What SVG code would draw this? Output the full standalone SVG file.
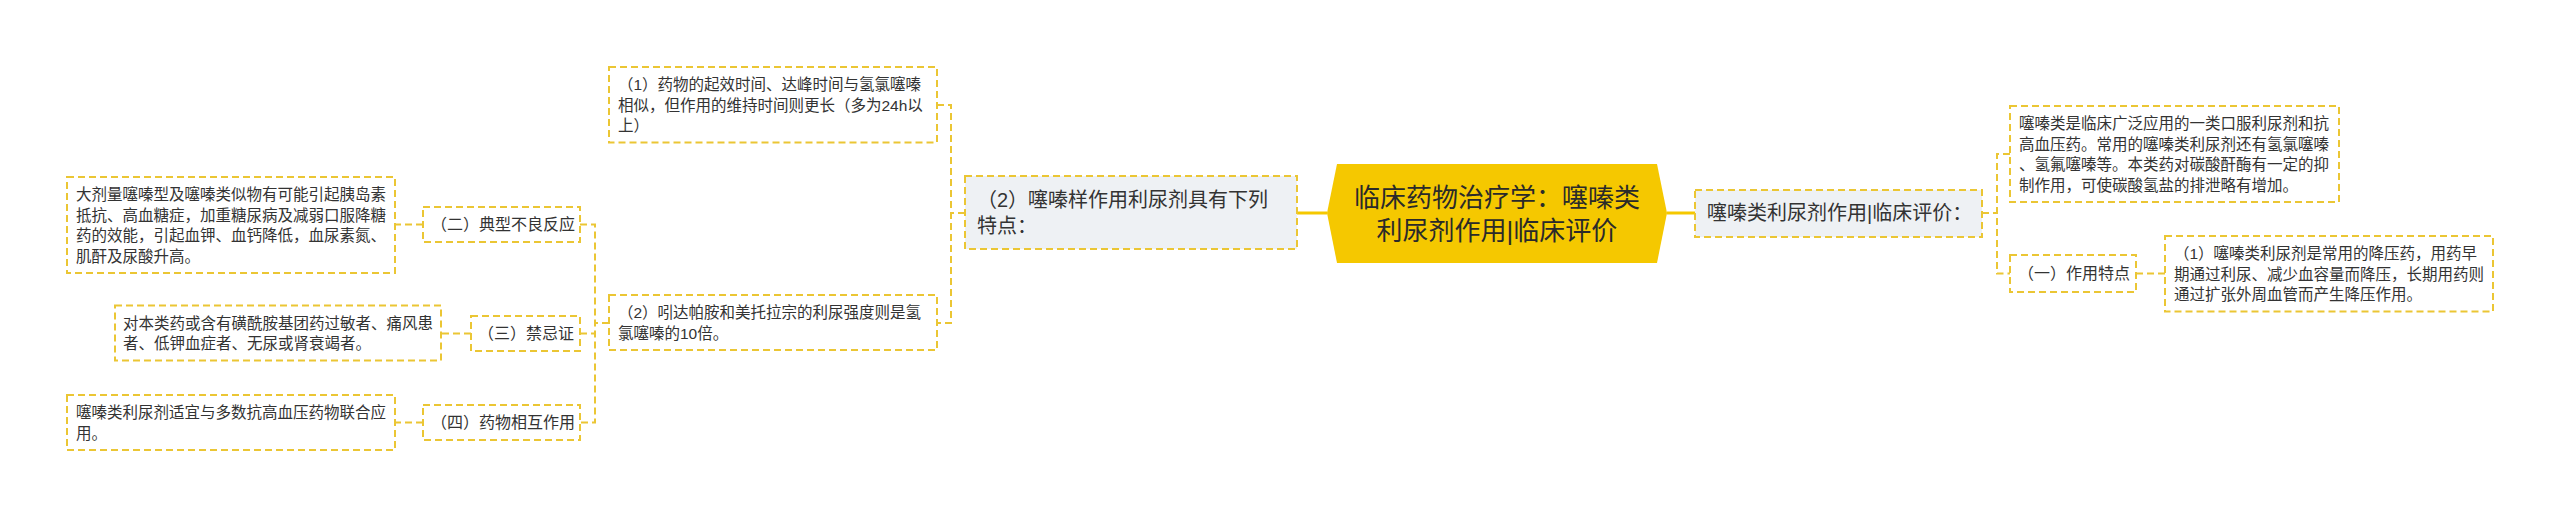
<svg xmlns="http://www.w3.org/2000/svg" width="2560" height="517" viewBox="0 0 2560 517">
<style>
text{font-family:"Liberation Sans","Noto Sans CJK SC",sans-serif;fill:#333333}
.box{fill:#ffffff;stroke:#EBC634;stroke-width:2;stroke-dasharray:7 4}
.gbox{fill:#EEF1F4;stroke:#EBC634;stroke-width:2;stroke-dasharray:7 4}
.p{font-size:15.5px}
.lb{font-size:16px}
.g{font-size:20px}
.c{font-size:26px;text-anchor:middle;fill:#2a2a2a}
.dl{fill:none;stroke:#EBC634;stroke-width:2;stroke-dasharray:7 4}
.sl{fill:none;stroke:#F5C800;stroke-width:3}
</style>
<rect width="2560" height="517" fill="#ffffff"/>
<g id="connectors">
<path class="sl" d="M1327 213 H1297"/>
<path class="sl" d="M1667 213 H1695"/>
<path class="dl" d="M965 213 H951 M937 105 H951 V323 H937"/>
<path class="dl" d="M609 323 H595 M580 224.5 H595 V422.5 H580 M580 333.5 H595"/>
<path class="dl" d="M423 224.5 H395"/>
<path class="dl" d="M471 333.5 H441"/>
<path class="dl" d="M423 422.5 H395"/>
<path class="dl" d="M1982 213 H1997 M2010 154 H1997 V273.5 H2010"/>
<path class="dl" d="M2136 273.5 H2165"/>
</g>
<g id="center">
<polygon points="1327,213 1337,164 1657,164 1667,213 1657,263 1337,263" fill="#F5C800"/>
<text class="c" x="1497" y="206.5">临床药物治疗学：噻嗪类</text>
<text class="c" x="1497" y="239.5">利尿剂作用|临床评价</text>
</g>
<g id="n-left-main">
<rect class="gbox" x="965" y="176" width="332" height="73"/>
<text class="g" x="977" y="206.7">（2）噻嗪样作用利尿剂具有下列</text>
<text class="g" x="977" y="232.7">特点：</text>
</g>
<g id="n-onset">
<rect class="box" x="609" y="67" width="328" height="75.5"/>
<text class="p" x="618" y="90">（1）药物的起效时间、达峰时间与氢氯噻嗪</text>
<text class="p" x="618" y="110.5">相似，但作用的维持时间则更长（多为24h以</text>
<text class="p" x="618" y="131">上）</text>
</g>
<g id="n-indapamide">
<rect class="box" x="609" y="295" width="328" height="55"/>
<text class="p" x="618" y="318">（2）吲达帕胺和美托拉宗的利尿强度则是氢</text>
<text class="p" x="618" y="338.5">氯噻嗪的10倍。</text>
</g>
<g id="n-adverse">
<rect class="box" x="423" y="207" width="157" height="35"/>
<text class="lb" x="431" y="230.3">（二）典型不良反应</text>
</g>
<g id="n-adverse-text">
<rect class="box" x="67" y="177" width="328" height="96"/>
<text class="p" x="76" y="200">大剂量噻嗪型及噻嗪类似物有可能引起胰岛素</text>
<text class="p" x="76" y="220.5">抵抗、高血糖症，加重糖尿病及减弱口服降糖</text>
<text class="p" x="76" y="241">药的效能，引起血钾、血钙降低，血尿素氮、</text>
<text class="p" x="76" y="261.5">肌酐及尿酸升高。</text>
</g>
<g id="n-contra">
<rect class="box" x="471" y="316" width="109" height="35"/>
<text class="lb" x="478" y="339.3">（三）禁忌证</text>
</g>
<g id="n-contra-text">
<rect class="box" x="115" y="305.5" width="326" height="55"/>
<text class="p" x="123" y="328.5">对本类药或含有磺酰胺基团药过敏者、痛风患</text>
<text class="p" x="123" y="349">者、低钾血症者、无尿或肾衰竭者。</text>
</g>
<g id="n-interact">
<rect class="box" x="423" y="405" width="157" height="35"/>
<text class="lb" x="431" y="428.3">（四）药物相互作用</text>
</g>
<g id="n-interact-text">
<rect class="box" x="67" y="395" width="328" height="55"/>
<text class="p" x="76" y="418">噻嗪类利尿剂适宜与多数抗高血压药物联合应</text>
<text class="p" x="76" y="438.5">用。</text>
</g>
<g id="n-right-main">
<rect class="gbox" x="1695" y="190" width="287" height="47"/>
<text class="g" x="1707" y="220">噻嗪类利尿剂作用|临床评价：</text>
</g>
<g id="n-intro">
<rect class="box" x="2010" y="106" width="329" height="96"/>
<text class="p" x="2019" y="129">噻嗪类是临床广泛应用的一类口服利尿剂和抗</text>
<text class="p" x="2019" y="149.5">高血压药。常用的噻嗪类利尿剂还有氢氯噻嗪</text>
<text class="p" x="2019" y="170">、氢氟噻嗪等。本类药对碳酸酐酶有一定的抑</text>
<text class="p" x="2019" y="190.5">制作用，可使碳酸氢盐的排泄略有增加。</text>
</g>
<g id="n-feature">
<rect class="box" x="2010" y="255" width="126" height="37"/>
<text class="lb" x="2018" y="279.3">（一）作用特点</text>
</g>
<g id="n-feature-text">
<rect class="box" x="2165" y="236" width="328" height="75.5"/>
<text class="p" x="2174" y="259">（1）噻嗪类利尿剂是常用的降压药，用药早</text>
<text class="p" x="2174" y="279.5">期通过利尿、减少血容量而降压，长期用药则</text>
<text class="p" x="2174" y="300">通过扩张外周血管而产生降压作用。</text>
</g>
</svg>
